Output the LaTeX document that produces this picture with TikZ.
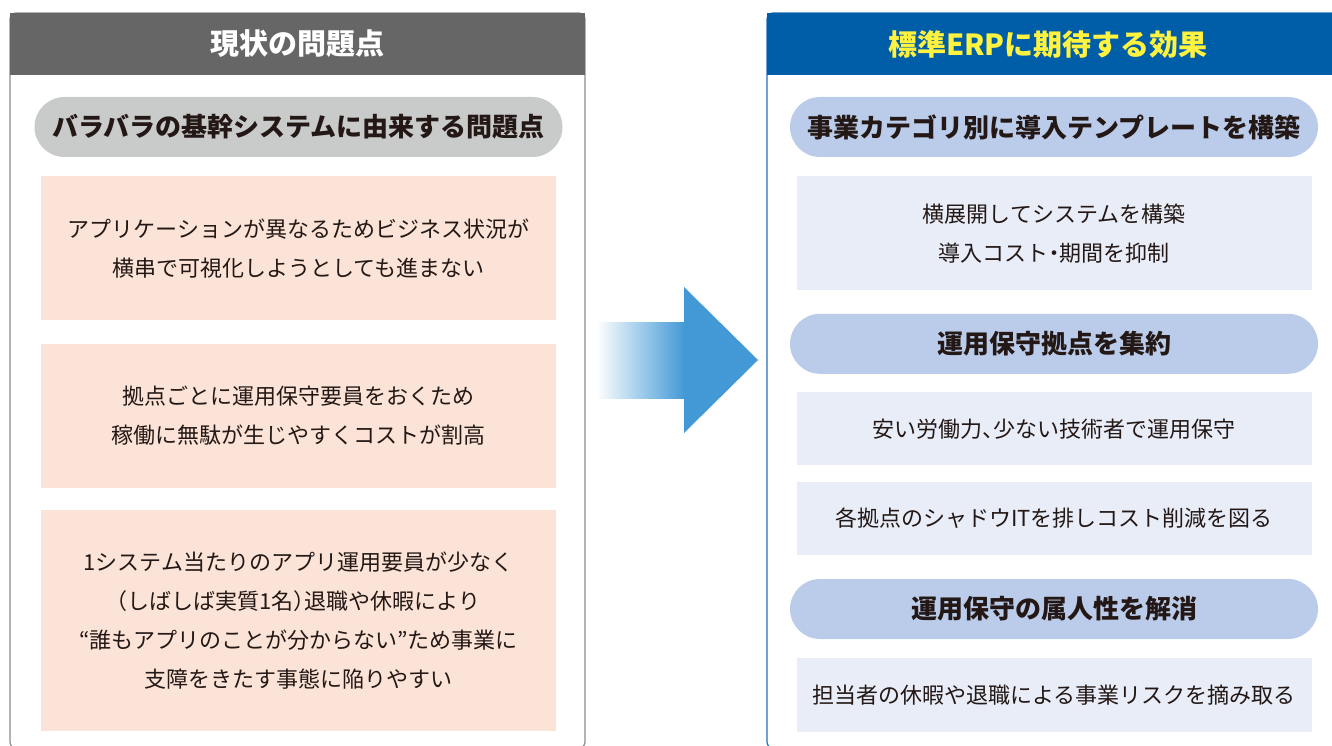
\documentclass[tikz,border=0pt]{standalone}
\usepackage{fontspec}
\setmainfont{Noto Sans CJK JP}
\usetikzlibrary{positioning}

\definecolor{ink}{HTML}{231815}
\definecolor{hgray}{HTML}{666666}
\definecolor{lgray}{HTML}{8C8C8C}
\definecolor{pillgray}{HTML}{C9CACA}
\definecolor{peach}{HTML}{FCE3D7}
\definecolor{hblue}{HTML}{005EA8}
\definecolor{rblue}{HTML}{1F6FBA}
\definecolor{titleyellow}{HTML}{FFF33F}
\definecolor{pillblue}{HTML}{BBCCEA}
\definecolor{paleblue}{HTML}{E8EDF8}
\definecolor{arrowblue}{HTML}{4299D6}

\begin{document}
\begin{tikzpicture}
[x=1pt, y=-1pt,
head/.style={font=\bfseries\fontsize{29}{33}\selectfont},
pill/.style={fill=#1, rounded corners=30pt, minimum width=528pt, minimum height=60pt,
  inner sep=0pt, text=ink, font=\bfseries\fontsize{26}{30}\selectfont},
box/.style={fill=#1, minimum width=515pt, inner sep=0pt, align=center,
  text=ink, font=\addfontfeatures{RawFeature=+halt}\fontsize{22}{39}\selectfont}
]
  \useasboundingbox (0,0) rectangle (1332,746);

  % left panel
  \draw[lgray, line width=1.2pt, rounded corners=6pt] (10,13) rectangle (585,748);
  \fill[hgray] (10,13) rectangle (585,75);
  \node[head, text=white] (lhead) at (297.5,44) {現状の問題点};

  \node[pill=pillgray] (lpill) at (298.5,127) {バラバラの基幹システムに由来する問題点};
  \node[box=peach, minimum height=144pt] (lbox1) [below=19pt of lpill]
    {アプリケーションが異なるためビジネス状況が\\横串で可視化しようとしても進まない};
  \node[box=peach, minimum height=144pt] (lbox2) [below=23pt of lbox1]
    {拠点ごとに運用保守要員をおくため\\稼働に無駄が生じやすくコストが割高};
  \node[box=peach, minimum height=221pt] (lbox3) [below=22pt of lbox2]
    {1システム当たりのアプリ運用要員が少なく\\（しばしば実質1名）退職や休暇により\\“誰もアプリのことが分からない”ため事業に\\支障をきたす事態に陥りやすい};

  % arrow
  \shade[left color=white, right color=arrowblue] (596,322) rectangle (685,398);
  \fill[arrowblue] (684,287) -- (758,360) -- (684,433) -- cycle;

  % right panel
  \draw[rblue, line width=1.2pt, rounded corners=6pt] (767,13) rectangle (1350,748);
  \fill[hblue] (767,13) rectangle (1350,75);
  \node[head, text=titleyellow] (rhead) at (1048,44) {標準ERPに期待する効果};

  \node[pill=pillblue] (rpill1) at (1054,127) {事業カテゴリ別に導入テンプレートを構築};
  \node[box=paleblue, minimum height=114pt] (rbox1) [below=19pt of rpill1]
    {横展開してシステムを構築\\導入コスト・期間を抑制};
  \node[pill=pillblue] (rpill2) [below=23pt of rbox1] {運用保守拠点を集約};
  \node[box=paleblue, minimum height=73pt] (rbox2) [below=18pt of rpill2]
    {安い労働力、少ない技術者で運用保守};
  \node[box=paleblue, minimum height=73pt] (rbox3) [below=16pt of rbox2]
    {各拠点のシャドウITを排しコスト削減を図る};
  \node[pill=pillblue] (rpill3) [below=24pt of rbox3] {運用保守の属人性を解消};
  \node[box=paleblue, minimum height=74pt] (rbox4) [below=19pt of rpill3]
    {担当者の休暇や退職による事業リスクを摘み取る};
\end{tikzpicture}
\end{document}
